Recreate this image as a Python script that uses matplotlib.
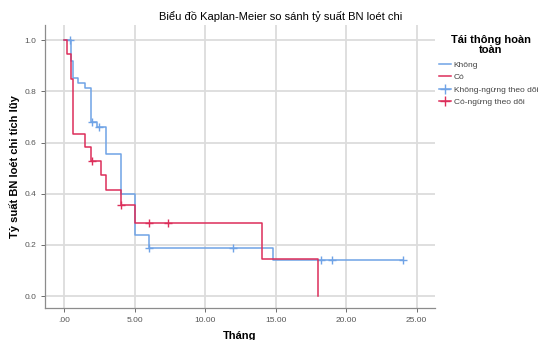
import matplotlib
matplotlib.use('Agg')
import matplotlib.pyplot as plt
from matplotlib.lines import Line2D

plt.rcParams['font.family'] = ['Liberation Sans', 'DejaVu Sans']

# Kaplan-Meier step data
khong_t = [0.0, 0.5, 0.66, 1.0, 1.5, 1.93, 2.32, 2.97, 4.0, 5.0, 6.0, 14.85, 24.0]
khong_s = [1.0, 0.918, 0.853, 0.834, 0.812, 0.681, 0.659, 0.555, 0.398, 0.238, 0.186, 0.141, 0.141]
khong_cens_t = [0.43, 1.95, 2.45, 6.0, 11.96, 18.2, 19.0, 24.0]
khong_cens_s = [1.0, 0.681, 0.659, 0.186, 0.186, 0.141, 0.141, 0.141]

co_t = [0.0, 0.19, 0.5, 0.66, 1.5, 1.93, 2.62, 3.0, 4.0, 5.0, 14.0, 18.0]
co_s = [1.0, 0.948, 0.848, 0.635, 0.583, 0.529, 0.473, 0.414, 0.355, 0.286, 0.143, 0.0]
co_cens_t = [2.0, 4.05, 6.0, 7.4]
co_cens_s = [0.529, 0.355, 0.286, 0.286]

xticks = [0, 5, 10, 15, 20, 25]
xtick_labels = ['.00', '5.00', '10.00', '15.00', '20.00', '25.00']
yticks = [0.0, 0.2, 0.4, 0.6, 0.8, 1.0]

blue = '#6fa3e6'
red = '#dc2e5a'

fig = plt.figure(figsize=(5.43, 3.40), dpi=100)
ax = fig.add_axes([0.083, 0.094, 0.718, 0.832])

ax.step(khong_t, khong_s, where='post', color=blue, lw=1.1, zorder=3)
ax.step(co_t, co_s, where='post', color=red, lw=1.1, zorder=4)
ax.plot(khong_cens_t, khong_cens_s, ls='none', marker='+', ms=6, mew=1.0, color=blue, zorder=3)
ax.plot(co_cens_t, co_cens_s, ls='none', marker='+', ms=6, mew=1.0, color=red, zorder=4)

ax.set_xlim(-1.35, 26.3)
ax.set_ylim(-0.047, 1.059)
ax.set_xticks(xticks)
ax.set_xticklabels(xtick_labels)
ax.set_yticks(yticks)
ax.set_yticklabels(['%.1f' % v for v in yticks])
ax.tick_params(labelsize=6, colors='#555555', length=3, width=0.6)
ax.grid(True, color='#dcdcdc', lw=1.3, zorder=0)
for side in ['top', 'right']:
    ax.spines[side].set_visible(False)
for side in ['left', 'bottom']:
    ax.spines[side].set_color('#8c8c8c')
    ax.spines[side].set_linewidth(0.9)

fig.text(0.516, 0.95, 'Biểu đồ Kaplan-Meier so sánh tỷ suất BN loét chi',
         ha='center', va='center', fontsize=8)
ax.set_xlabel('Tháng', fontsize=8, fontweight='bold')
ax.xaxis.set_label_coords(0.5, -0.082)
ax.set_ylabel('Tỷ suất BN loét chi tích lũy', fontsize=8, fontweight='bold')
ax.yaxis.set_label_coords(-0.064, 0.5)

handles = [
    Line2D([], [], color=blue, lw=1.1),
    Line2D([], [], color=red, lw=1.1),
    Line2D([], [], color=blue, lw=1.1, marker='+', ms=7),
    Line2D([], [], color=red, lw=1.1, marker='+', ms=7),
]
labels = ['Không', 'Có', 'Không-ngừng theo dõi', 'Có-ngừng theo dõi']
fig.text(0.904, 0.868, 'Tái thông hoàn\ntoàn', ha='center', va='center',
         fontsize=8, fontweight='bold', linespacing=1.0)
leg = fig.legend(handles, labels, loc='upper left', bbox_to_anchor=(0.802, 0.83),
                 frameon=False, fontsize=6, handlelength=1.5, handletextpad=0.3,
                 labelspacing=0.55, borderaxespad=0)
for t in leg.get_texts():
    t.set_color('#444444')

fig.savefig('out.png', dpi=100)
